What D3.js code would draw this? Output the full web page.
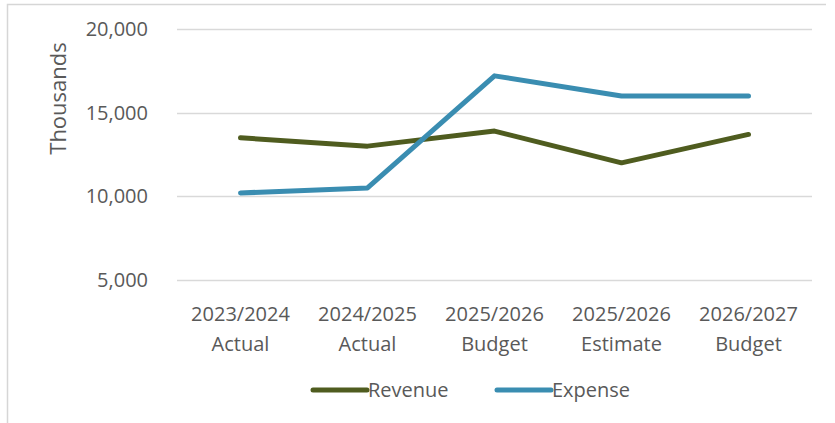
<!DOCTYPE html>
<html>
<head>
<meta charset="utf-8">
<script src="https://cdn.jsdelivr.net/npm/d3@7/dist/d3.min.js"></script>
<style>
  html, body { margin: 0; padding: 0; background: #ffffff; }
  svg { display: block; }
  text { font-family: "Open Sans", "Noto Sans", sans-serif; fill: #595959; }
</style>
</head>
<body>
<svg id="chart" width="835" height="423"></svg>
<script>
// Fiscal periods shown on the x axis (two lines each)
const periods = ["2023/2024", "2024/2025", "2025/2026", "2025/2026", "2026/2027"];
const periodTypes = ["Actual", "Actual", "Budget", "Estimate", "Budget"];

// Values in thousands
const revenue = [13500, 13000, 13900, 12000, 13700];
const expense = [10200, 10500, 17200, 16000, 16000];

const yTicks = [5000, 10000, 15000, 20000];
const seriesNames = ["Revenue", "Expense"];
const seriesColors = ["#4f5c1f", "#3a8db1"];

const svg = d3.select("#chart");

// Outer frame of the chart area
svg.append("path")
  .attr("d", "M7.5,423 L7.5,4.5 L826,4.5")
  .attr("fill", "none")
  .attr("stroke", "#d6d6d6")
  .attr("stroke-width", 1.5);

const plot = { left: 177, right: 812, top: 29, bottom: 280 };

const x = d3.scaleBand()
  .domain(d3.range(periods.length))
  .range([plot.left, plot.right]);

const y = d3.scaleLinear()
  .domain([5000, 20000])
  .range([plot.bottom, plot.top]);

// Horizontal gridlines
svg.append("g")
  .selectAll("line")
  .data(yTicks)
  .join("line")
  .attr("x1", plot.left)
  .attr("x2", plot.right)
  .attr("y1", d => Math.round(y(d)) + 0.5)
  .attr("y2", d => Math.round(y(d)) + 0.5)
  .attr("stroke", "#d9d9d9")
  .attr("stroke-width", 1.5);

// Y axis labels
const yAxis = d3.axisLeft(y)
  .tickValues(yTicks)
  .tickFormat(d3.format(","))
  .tickSize(0)
  .tickPadding(0);

const yg = svg.append("g")
  .attr("transform", `translate(${plot.left - 29},0)`)
  .call(yAxis);
yg.select(".domain").remove();
yg.selectAll("text")
  .attr("font-size", 20)
  .attr("fill", "#595959")
  .attr("font-family", "\"Open Sans\", sans-serif");

// Axis title
svg.append("text")
  .attr("transform", `translate(66,${(40 + 157) / 2}) rotate(-90)`)
  .attr("text-anchor", "middle")
  .attr("font-size", 22)
  .text("Thousands");

// Category labels
const xg = svg.append("g");
const catLabel = xg.selectAll("text")
  .data(periods)
  .join("text")
  .attr("text-anchor", "middle")
  .attr("font-size", 20)
  .attr("x", (d, i) => x(i) + x.bandwidth() / 2)
  .attr("y", 321);
catLabel.append("tspan")
  .attr("x", (d, i) => x(i) + x.bandwidth() / 2)
  .text(d => d);
catLabel.append("tspan")
  .attr("x", (d, i) => x(i) + x.bandwidth() / 2)
  .attr("dy", 30)
  .text((d, i) => periodTypes[i]);

// Series lines
const line = d3.line()
  .x((d, i) => x(i) + x.bandwidth() / 2)
  .y(d => y(d));

[revenue, expense].forEach((vals, k) => {
  svg.append("path")
    .datum(vals)
    .attr("d", line)
    .attr("fill", "none")
    .attr("stroke", seriesColors[k])
    .attr("stroke-width", 5)
    .attr("stroke-linejoin", "round")
    .attr("stroke-linecap", "round");
});

// Legend
const legendItems = [
  { name: seriesNames[0], color: seriesColors[0], x0: 313, x1: 367 },
  { name: seriesNames[1], color: seriesColors[1], x0: 497, x1: 551 }
];
const lg = svg.append("g");
legendItems.forEach(it => {
  lg.append("line")
    .attr("x1", it.x0).attr("x2", it.x1)
    .attr("y1", 390).attr("y2", 390)
    .attr("stroke", it.color)
    .attr("stroke-width", 5)
    .attr("stroke-linecap", "round");
  lg.append("text")
    .attr("x", it.x1 + 1)
    .attr("y", 397)
    .attr("font-size", 20)
    .text(it.name);
});
</script>
</body>
</html>
